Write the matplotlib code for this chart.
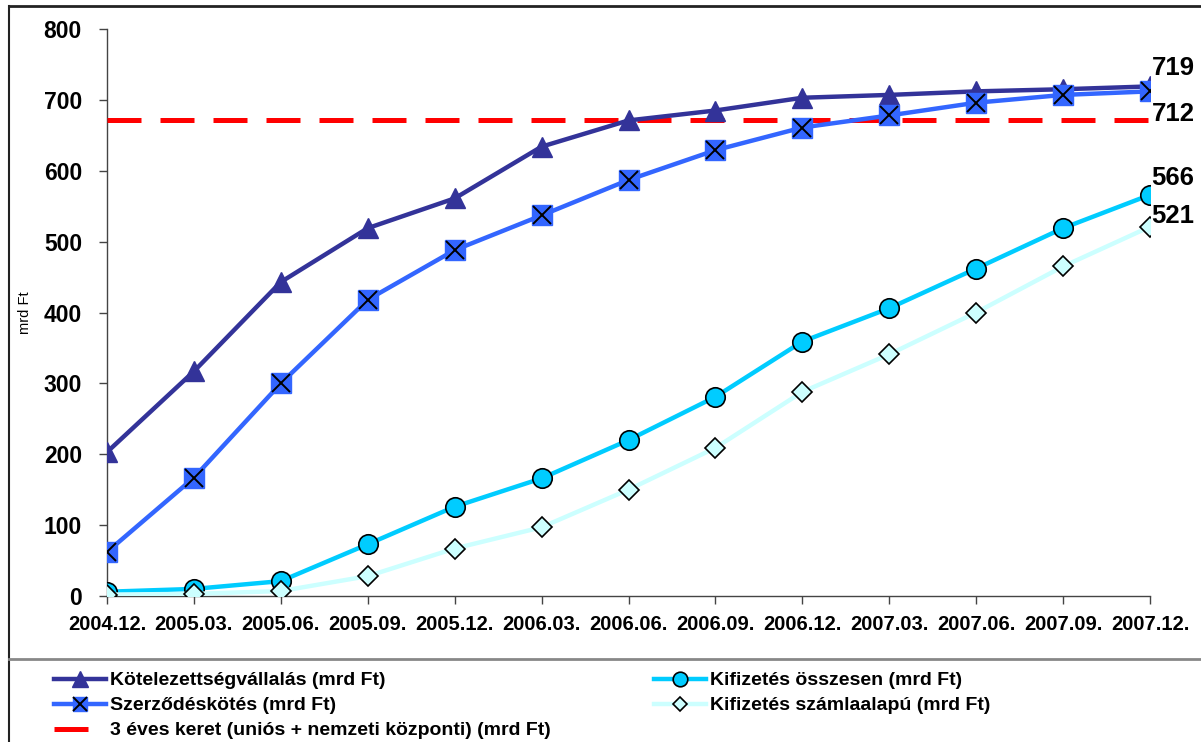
import matplotlib
matplotlib.use("Agg")
import matplotlib.pyplot as plt
from matplotlib.lines import Line2D

# data
periods = ["2004.12.", "2005.03.", "2005.06.", "2005.09.", "2005.12.", "2006.03.",
           "2006.06.", "2006.09.", "2006.12.", "2007.03.", "2007.06.", "2007.09.", "2007.12."]
kotelezettseg = [203, 317, 443, 519, 561, 634, 671, 685, 703, 707, 712, 715, 719]
szerzodes = [62, 167, 300, 418, 488, 537, 587, 629, 661, 678, 696, 707, 712]
kifizetes_ossz = [6, 10, 21, 73, 126, 166, 220, 281, 359, 406, 462, 519, 566]
kifizetes_szamla = [2, 3, 7, 28, 67, 97, 150, 209, 288, 341, 400, 465, 521]
keret = 671

plt.rcParams['font.family'] = ['Liberation Sans', 'DejaVu Sans']

fig = plt.figure(figsize=(12.01, 7.42), dpi=100)
ax = fig.add_axes([107 / 1201, 1 - 596 / 742, (1150 - 107) / 1201, (596 - 29) / 742])

x = list(range(len(periods)))

ax.plot([0, 12], [keret, keret], color="#FF0000", lw=3.6, dashes=(6.8, 3.8),
        solid_capstyle="butt", zorder=2)

l1, = ax.plot(x, kotelezettseg, color="#333399", lw=3.2, marker="^", ms=15,
              mfc="#333399", mec="#333399", zorder=5)
l2, = ax.plot(x, szerzodes, color="#3366FF", lw=3.2, marker="s", ms=14,
              mfc="#3366FF", mec="#3366FF", zorder=5)
l2x, = ax.plot(x, szerzodes, ls="none", marker="x", ms=13, mew=1.4,
               color="black", zorder=6)
l3, = ax.plot(x, kifizetes_ossz, color="#00CCFF", lw=3.2, marker="o", ms=14,
              mfc="#00CCFF", mec="black", mew=1.2, zorder=5)
l4, = ax.plot(x, kifizetes_szamla, color="#CCFFFF", lw=3.2, marker="D", ms=10,
              mfc="#CCFFFF", mec="black", mew=1.2, zorder=5)

ax.set_xlim(0, 12)
ax.set_ylim(0, 800)
ax.set_yticks(range(0, 801, 100))
ax.set_xticks(x)
ax.set_xticklabels(periods)
ax.tick_params(axis="both", direction="out", length=6, width=1, color="#444444")
ax.tick_params(axis="y", labelsize=16.5, pad=12)
ax.tick_params(axis="x", labelsize=14.5, pad=8)
for lab in ax.get_xticklabels() + ax.get_yticklabels():
    lab.set_fontweight("bold")
for s in ["top", "right"]:
    ax.spines[s].set_visible(False)
for s in ["left", "bottom"]:
    ax.spines[s].set_color("#444444")
    ax.spines[s].set_linewidth(1)
    ax.spines[s].set_zorder(1)

ax.set_ylabel("mrd Ft", fontsize=10.5)
ax.yaxis.set_label_coords(-0.072, 0.5)

# end value labels
last = len(periods) - 1
for vals, dy in [(kotelezettseg, 13), (szerzodes, -16), (kifizetes_ossz, 12), (kifizetes_szamla, 8)]:
    ax.annotate(str(vals[last]), (last, vals[last]), xytext=(1, dy), textcoords="offset points",
                ha="left", va="center", fontsize=18.5, fontweight="bold", annotation_clip=False)

# frame around chart area and legend separator
fig.add_artist(Line2D([9 / 1201, 1], [1 - 6 / 742, 1 - 6 / 742], color="#222222", lw=2))
fig.add_artist(Line2D([9 / 1201, 9 / 1201], [0, 1 - 6 / 742], color="#222222", lw=1.5))
fig.add_artist(Line2D([9 / 1201, 1], [1 - 659 / 742, 1 - 659 / 742], color="#888888", lw=2))

keret_h = Line2D([], [], color="#FF0000", lw=3.6, dashes=(6.8, 3.8))
handles = [l1, (l2, l2x), keret_h, l3, l4]
labels = ["Kötelezettségvállalás (mrd Ft)", "Szerződéskötés (mrd Ft)",
          "3 éves keret (uniós + nemzeti központi) (mrd Ft)",
          "Kifizetés összesen (mrd Ft)", "Kifizetés számlaalapú (mrd Ft)"]
leg = fig.legend(handles, labels, ncol=2, loc="upper left",
                 bbox_to_anchor=(44 / 1201, 1 - 662 / 742), frameon=False,
                 prop={"weight": "bold", "size": 14}, handlelength=2.7,
                 handletextpad=0.2, columnspacing=5.3, labelspacing=0.38,
                 borderpad=0, markerscale=0.75)

fig.savefig("out.png", dpi=100)
